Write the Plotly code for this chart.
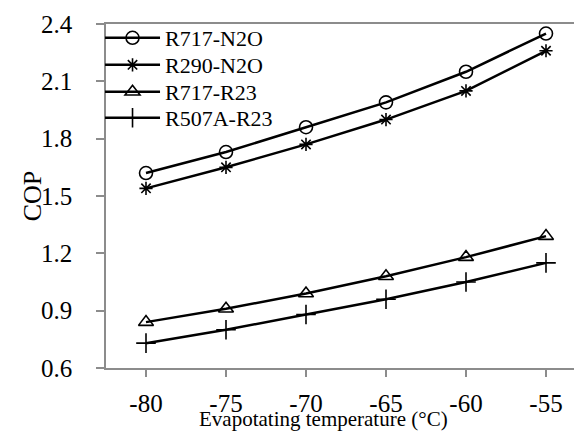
import plotly.graph_objects as go

temps = ["-80", "-75", "-70", "-65", "-60", "-55"]
r717_n2o = [1.62, 1.73, 1.86, 1.99, 2.15, 2.35]
r290_n2o = [1.54, 1.65, 1.77, 1.90, 2.05, 2.26]
r717_r23 = [0.84, 0.91, 0.99, 1.08, 1.18, 1.29]
r507a_r23 = [0.73, 0.80, 0.88, 0.96, 1.05, 1.15]

series = [
    ("R717-N2O", r717_n2o, "circle-open", 13),
    ("R290-N2O", r290_n2o, "asterisk-open", 11),
    ("R717-R23", r717_r23, "triangle-up-open", 13),
    ("R507A-R23", r507a_r23, "cross-thin-open", 14),
]

FONT = "Liberation Serif"
PLOT_TOP, PLOT_BOTTOM, PLOT_LEFT, PLOT_RIGHT = 16, 360, 98, 580
legend_rows = [30, 57, 84, 110]  # vertical centres of legend entries (px)

fig = go.Figure()
legend_layout = {}
for i, (name, vals, sym, sz) in enumerate(series):
    lname = "legend" if i == 0 else f"legend{i + 1}"
    fig.add_trace(go.Scatter(
        x=temps, y=vals, name=name, mode="lines+markers",
        line=dict(color="black", width=2.5),
        marker=dict(symbol=sym, size=sz, color="black",
                    line=dict(color="black", width=1.6)),
        legend=lname,
    ))
    legend_layout[lname] = dict(
        x=-6 / (PLOT_RIGHT - PLOT_LEFT),
        y=(PLOT_BOTTOM - legend_rows[i]) / (PLOT_BOTTOM - PLOT_TOP),
        xanchor="left", yanchor="middle",
        bgcolor="rgba(0,0,0,0)", font=dict(size=22, family=FONT, color="black"),
        itemwidth=55,
    )

fig.update_layout(
    width=582, height=432,
    margin=dict(l=PLOT_LEFT, r=582 - PLOT_RIGHT, t=PLOT_TOP, b=432 - PLOT_BOTTOM),
    paper_bgcolor="white", plot_bgcolor="white",
    font=dict(family=FONT, size=22, color="black"),
    showlegend=True,
    xaxis=dict(type="category", range=[-0.5, 5.5],
               showline=True, linecolor="#8c8c8c", linewidth=1.5, mirror=True,
               ticks="outside", ticklen=7, tickcolor="#8c8c8c", tickwidth=1.5,
               showgrid=False, zeroline=False, ticklabelstandoff=5,
               tickfont=dict(size=25)),
    yaxis=dict(range=[0.6, 2.4], dtick=0.3, tick0=0.6, tickformat=".1f",
               showline=True, linecolor="#8c8c8c", linewidth=1.5, mirror=True,
               ticks="outside", ticklen=8, tickcolor="#8c8c8c", tickwidth=1.5,
               showgrid=False, zeroline=False, ticklabelstandoff=19,
               tickfont=dict(size=25)),
    annotations=[
        dict(text="Evapotating temperature (°C)", xref="paper", yref="paper",
             x=(316 - PLOT_LEFT) / (PLOT_RIGHT - PLOT_LEFT),
             y=-(411 - PLOT_BOTTOM) / (PLOT_BOTTOM - PLOT_TOP),
             xanchor="center", yanchor="middle", showarrow=False, font=dict(size=21)),
        dict(text="COP", xref="paper", yref="paper", textangle=-90,
             x=(24 - PLOT_LEFT) / (PLOT_RIGHT - PLOT_LEFT), y=0.5,
             xanchor="center", yanchor="middle", showarrow=False, font=dict(size=26)),
    ],
    **legend_layout,
)

fig.write_html("out.html")
